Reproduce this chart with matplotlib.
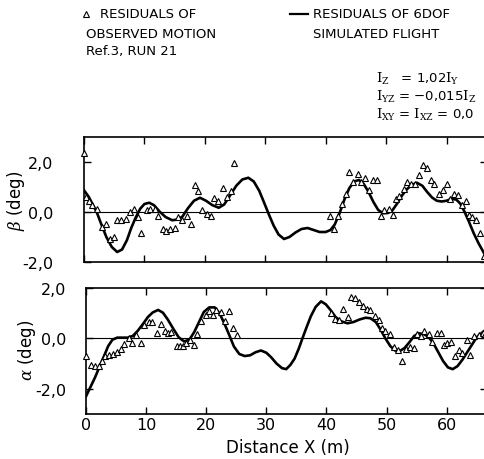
import matplotlib
matplotlib.use("Agg")
import matplotlib.pyplot as plt

plt.rcParams["font.family"] = ["DejaVu Sans"]
plt.rcParams["mathtext.fontset"] = "dejavuserif"

# --- beta: residuals of observed motion (triangles) ---
beta_obs_x = [0.0, 0.4, 0.9, 1.4, 2.1, 2.9, 3.6, 4.3, 5.0, 5.5, 6.2, 6.9, 7.6, 8.3,
              9.0, 9.5, 10.4, 11.0, 11.8, 12.3, 13.0, 13.6, 14.2, 15.1, 15.6, 16.2,
              17.0, 17.7, 18.4, 18.9, 19.6, 20.3, 21.0, 21.5, 22.2, 23.0, 23.6, 24.3,
              24.8,
              40.7, 41.4, 42.1, 42.7, 43.3, 43.9, 44.6, 45.3, 45.9, 46.5, 47.2, 47.9,
              48.5, 49.1, 49.7, 50.4, 51.1, 51.7, 52.2, 52.9, 53.5, 54.2, 54.8, 55.5,
              56.1, 56.7, 57.4, 58.0, 58.8, 59.4, 60.0, 60.5, 61.3, 61.9, 62.5, 63.2,
              63.7, 64.3, 64.9, 65.5, 66.2]
beta_obs_y = [2.37, 0.60, 0.43, 0.29, 0.13, -0.60, -0.47, -1.07, -1.00, -0.31, -0.33,
              -0.27, 0.00, 0.13, -0.20, -0.83, 0.09, 0.11, 0.13, -0.17, -0.69, -0.77,
              -0.69, -0.64, -0.20, -0.33, -0.17, -0.47, 1.07, 0.84, 0.07, -0.07, -0.17,
              0.56, 0.43, 0.96, 0.60, 0.83, 1.97,
              -0.17, -0.67, -0.16, 0.33, 0.73, 1.60, 1.20, 1.53, 1.20, 1.36, 0.89,
              1.29, 1.29, -0.17, 0.07, 0.13, -0.13, 0.53, 0.63, 0.93, 1.20, 1.13,
              1.13, 1.49, 1.87, 1.76, 1.29, 1.13, 0.73, 0.87, 1.13, 0.53, 0.71, 0.67,
              0.27, 0.43, -0.13, -0.20, -0.31, -0.84, -1.77]

# --- beta: residuals of 6DOF simulated flight (line) ---
beta_sim_x = [0.0, 0.8, 1.5, 2.1, 2.8, 3.7, 4.6, 5.5, 6.3, 7.1, 7.8, 8.5, 9.3, 10.0,
              10.8, 11.6, 12.5, 13.5, 14.6, 15.5, 16.3, 17.2, 18.2, 19.2, 20.2, 21.2,
              22.3, 23.2, 24.2, 25.2, 26.2, 27.2, 28.1, 29.0, 29.8, 30.6, 31.4, 32.2,
              33.1, 34.0, 35.0, 36.0, 37.0, 38.0, 39.0, 40.0, 40.8, 41.5, 42.3, 43.1,
              43.9, 44.7, 45.5, 46.3, 47.1, 47.9, 48.7, 49.5, 50.3, 51.0, 51.8, 52.6,
              53.4, 54.2, 55.1, 56.0, 56.8, 57.6, 58.4, 59.2, 60.0, 60.8, 61.6, 62.3,
              63.0, 63.7, 64.5, 65.3, 66.4]
beta_sim_y = [0.87, 0.60, 0.27, 0.00, -0.45, -1.00, -1.40, -1.60, -1.50, -1.13, -0.65,
              -0.25, 0.13, 0.32, 0.37, 0.27, 0.02, -0.20, -0.33, -0.30, -0.18, 0.15,
              0.45, 0.57, 0.45, 0.28, 0.17, 0.30, 0.67, 1.05, 1.30, 1.37, 1.22, 0.85,
              0.38, -0.10, -0.55, -0.90, -1.08, -1.00, -0.82, -0.68, -0.64, -0.72,
              -0.80, -0.80, -0.72, -0.50, -0.05, 0.50, 0.95, 1.22, 1.28, 1.12, 0.80,
              0.40, 0.08, -0.05, -0.04, 0.05, 0.33, 0.65, 0.90, 1.08, 1.17, 1.05, 0.80,
              0.58, 0.45, 0.42, 0.45, 0.52, 0.50, 0.33, 0.00, -0.38, -0.85, -1.25, -1.73]

# --- alpha: residuals of observed motion (triangles) ---
alpha_obs_x = [0.05, 0.9, 1.5, 2.2, 2.6, 3.2, 3.9, 4.5, 5.1, 5.8, 6.4, 7.1, 7.7, 8.3,
               9.1, 9.7, 10.4, 10.9, 11.8, 12.4, 13.1, 13.7, 14.2, 15.1, 15.6, 16.2,
               16.7, 17.3, 17.9, 18.5, 19.2, 19.9, 20.5, 21.1, 21.6, 22.4, 23.1, 23.8,
               24.4, 25.1,
               40.7, 41.4, 42.1, 42.8, 43.5, 44.0, 44.8, 45.4, 46.1, 46.7, 47.3, 48.1,
               48.7, 49.3, 49.8, 50.6, 51.2, 51.9, 52.6, 53.3, 53.9, 54.5, 55.1, 55.7,
               56.3, 57.0, 57.6, 58.4, 59.0, 59.5, 60.1, 60.7, 61.4, 62.0, 62.6, 63.3,
               63.9, 64.6, 65.3, 66.0, 66.4]
alpha_obs_y = [-0.71, -1.04, -1.10, -1.10, -0.91, -0.71, -0.65, -0.62, -0.55, -0.42,
               -0.22, 0.00, -0.19, 0.13, -0.19, 0.52, 0.65, 0.65, 0.23, 0.58, 0.30,
               0.23, 0.26, -0.32, -0.32, -0.32, -0.17, -0.06, -0.26, 0.19, 0.71, 0.91,
               1.10, 0.91, 1.13, 1.04, 0.68, 1.10, 0.43, 0.13,
               1.01, 0.78, 0.73, 1.17, 0.84, 1.66, 1.60, 1.43, 1.27, 1.17, 1.14, 0.88,
               0.75, 0.43, 0.30, 0.17, -0.35, -0.48, -0.91, -0.42, -0.35, -0.39, 0.19,
               0.10, 0.30, 0.17, -0.16, 0.23, 0.23, -0.26, -0.18, -0.16, -0.68, -0.48,
               -0.57, -0.06, -0.65, 0.10, 0.13, 0.23, 0.17]

# --- alpha: residuals of 6DOF simulated flight (line) ---
alpha_sim_x = [0.0, 0.8, 1.5, 2.2, 3.0, 3.7, 4.4, 5.2, 6.0, 7.0, 7.8, 8.6, 9.5, 10.3,
               11.1, 12.0, 12.8, 13.6, 14.5, 15.4, 16.3, 17.2, 18.0, 18.8, 19.6, 20.5,
               21.4, 22.2, 23.0, 23.8, 24.6, 25.5, 26.4, 27.3, 28.2, 29.1, 30.0, 30.8,
               31.7, 32.6, 33.3, 34.0, 34.7, 35.4, 36.0, 36.7, 37.4, 38.2, 39.1, 39.9,
               40.7, 41.5, 42.4, 43.5, 44.5, 45.5, 46.5, 47.3, 48.2, 49.0, 49.8, 50.6,
               51.4, 52.2, 53.0, 53.8, 54.6, 55.4, 56.2, 57.0, 57.8, 58.6, 59.4, 60.2,
               61.0, 61.8, 62.6, 63.4, 64.2, 65.0, 66.4]
alpha_sim_y = [-2.30, -1.90, -1.55, -1.15, -0.70, -0.30, -0.05, 0.03, 0.03, 0.03, 0.10,
               0.30, 0.58, 0.85, 1.03, 1.13, 1.02, 0.75, 0.39, 0.05, -0.12, -0.05, 0.25,
               0.65, 1.05, 1.23, 1.23, 1.00, 0.60, 0.15, -0.32, -0.62, -0.70, -0.67,
               -0.55, -0.48, -0.57, -0.75, -1.00, -1.18, -1.22, -1.05, -0.80, -0.40,
               0.00, 0.45, 0.88, 1.25, 1.47, 1.35, 1.12, 0.85, 0.68, 0.60, 0.65, 0.75,
               0.82, 0.80, 0.65, 0.35, 0.00, -0.30, -0.48, -0.50, -0.38, -0.15, 0.10,
               0.20, 0.17, 0.05, -0.20, -0.55, -0.90, -1.15, -1.22, -1.10, -0.85, -0.55,
               -0.25, 0.05, 0.33]

x_ticks = [0, 10, 20, 30, 40, 50, 60]
x_ticklabels = ["0", "10", "20", "30", "40", "50", "60"]
y_ticks = [-2, 0, 2]
y_ticklabels = ["-2,0", "0,0", "2,0"]

W, H = 485, 460
fig = plt.figure(figsize=(W / 100, H / 100), dpi=100)


def px_axes(left, top, right, bottom):
    return fig.add_axes([left / W, 1 - bottom / H, (right - left) / W, (bottom - top) / H])


def style(ax, ylim, ypad):
    ax.set_xlim(0, 66.7)
    ax.set_ylim(*ylim)
    ax.axhline(0, color="black", lw=0.8, zorder=1)
    ax.set_xticks(x_ticks)
    ax.set_yticks(y_ticks)
    ax.set_yticklabels(y_ticklabels, fontsize=11.5)
    ax.tick_params(axis="both", direction="in", length=5, width=1.0,
                   top=True, right=True)
    ax.tick_params(axis="y", pad=ypad)
    for s in ax.spines.values():
        s.set_linewidth(1.2)


def triangles(ax, x, y):
    ax.plot(x, y, ls="none", marker="^", ms=4.5, mfc="white",
            mec="black", mew=0.8, zorder=3, clip_on=False)


# top panel: beta
ax1 = px_axes(84, 138, 487, 263)
ax1.plot(beta_sim_x, beta_sim_y, color="black", lw=1.9, zorder=2)
triangles(ax1, beta_obs_x, beta_obs_y)
style(ax1, (-2, 3), 22)
ax1.set_xticklabels([])
fig.text(16 / W, 1 - 201 / H, r"$\beta$ (deg)", rotation=90, fontsize=12,
         ha="center", va="center")

# bottom panel: alpha
ax2 = px_axes(86, 289, 487, 415)
ax2.plot(alpha_sim_x, alpha_sim_y, color="black", lw=1.9, zorder=2)
triangles(ax2, alpha_obs_x, alpha_obs_y)
style(ax2, (-3, 2), 14)
ax2.set_xticklabels(x_ticklabels, fontsize=11.5)
ax2.tick_params(axis="x", pad=2)
fig.text(27 / W, 1 - 350 / H, r"$\alpha$ (deg)", rotation=90, fontsize=12,
         ha="center", va="center")
fig.text(288 / W, 1 - 448 / H, "Distance X (m)", fontsize=12, ha="center", va="center")

# legend / annotation block
fs = 9.5
fig.add_artist(plt.Line2D([86 / W], [1 - 15 / H], ls="none", marker="^", ms=4.5,
                          mfc="white", mec="black", mew=0.8))
fig.text(100 / W, 1 - 15 / H, "RESIDUALS OF", fontsize=fs, va="center")
fig.text(86 / W, 1 - 34 / H, "OBSERVED MOTION", fontsize=fs, va="center")
fig.text(86 / W, 1 - 52 / H, "Ref.3, RUN 21", fontsize=fs, va="center")
fig.add_artist(plt.Line2D([290 / W, 308 / W], [1 - 15 / H, 1 - 15 / H],
                          color="black", lw=1.6))
fig.text(313 / W, 1 - 15 / H, "RESIDUALS OF 6DOF", fontsize=fs, va="center")
fig.text(313 / W, 1 - 34 / H, "SIMULATED FLIGHT", fontsize=fs, va="center")
fig.text(376 / W, 1 - 79 / H, r"$\mathrm{I_Z}$   = 1,02$\mathrm{I_Y}$", fontsize=fs,
         va="center")
fig.text(376 / W, 1 - 97 / H, r"$\mathrm{I_{YZ}}$ = " + "\u22120,015" + r"$\mathrm{I_Z}$",
         fontsize=fs, va="center")
fig.text(376 / W, 1 - 115 / H, r"$\mathrm{I_{XY}}$ = $\mathrm{I_{XZ}}$ = 0,0", fontsize=fs,
         va="center")

fig.savefig("out.png", dpi=100)
